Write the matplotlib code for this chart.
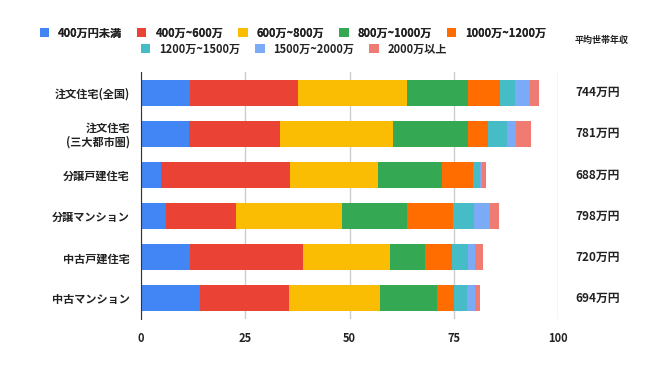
import matplotlib
matplotlib.use("Agg")
import matplotlib.pyplot as plt
import matplotlib.transforms as mtransforms
from matplotlib.patches import Patch
import numpy as np

plt.rcParams['font.family'] = ['Noto Sans CJK JP', 'DejaVu Sans']

categories = ["注文住宅(全国)", "注文住宅\n(三大都市圏)", "分譲戸建住宅", "分譲マンション", "中古戸建住宅", "中古マンション"]
series_names = ["400万円未満", "400万~600万", "600万~800万", "800万~1000万", "1000万~1200万",
                "1200万~1500万", "1500万~2000万", "2000万以上"]
colors = ["#4285F4", "#EA4335", "#FBBC04", "#34A853", "#FF6D01", "#46BDC6", "#7BAAF7", "#F07B72"]

s_under400 = [11.8, 11.5, 4.8, 6.1, 11.8, 14.1]
s_400_600 = [25.9, 21.9, 30.9, 16.7, 27.0, 21.3]
s_600_800 = [26.0, 27.1, 21.2, 25.4, 20.8, 21.9]
s_800_1000 = [14.7, 17.9, 15.3, 15.7, 8.6, 13.7]
s_1000_1200 = [7.8, 4.8, 7.5, 10.9, 6.3, 4.0]
s_1200_1500 = [3.5, 4.6, 1.5, 5.0, 3.9, 3.1]
s_1500_2000 = [3.5, 2.1, 0.5, 4.0, 1.8, 1.9]
s_over2000 = [2.2, 3.7, 1.0, 2.1, 1.8, 1.2]
avg_income = ["744万円", "781万円", "688万円", "798万円", "720万円", "694万円"]
xticks = [0, 25, 50, 75, 100]

series = [s_under400, s_400_600, s_600_800, s_800_1000, s_1000_1200,
          s_1200_1500, s_1500_2000, s_over2000]

W, H = 660, 371
fig = plt.figure(figsize=(W / 100, H / 100), dpi=100)
ax = fig.add_axes([141 / W, 1 - 319 / H, (558 - 141) / W, (319 - 72) / H])

y = np.arange(len(categories))
left = np.zeros(len(categories))
for vals, c, name in zip(series, colors, series_names):
    ax.barh(y, vals, left=left, height=0.63, color=c, label=name, zorder=3)
    left += np.array(vals)

ax.set_ylim(len(categories) - 0.5, -0.5)
ax.set_xlim(0, 100)
ax.set_xticks(xticks)
ax.set_xticklabels([str(t) for t in xticks], fontsize=8, fontweight='bold', color='#222222')
ax.set_yticks(y)
ax.set_yticklabels(categories, fontsize=8, fontweight='bold', color='#222222', linespacing=1.0)
ax.tick_params(axis='y', length=0, pad=8)
ax.tick_params(axis='x', length=0, pad=9)
ax.grid(axis='x', color='#cccccc', linewidth=1, zorder=0)
for s in ['top', 'right', 'bottom']:
    ax.spines[s].set_visible(False)
ax.spines['left'].set_color('#333333')
ax.spines['left'].set_zorder(4)

trans = mtransforms.blended_transform_factory(fig.transFigure, ax.transData)
for yi, lab in zip(y, avg_income):
    ax.text(575 / W, yi, lab, transform=trans, fontsize=8.5, fontweight='bold',
            color='#222222', va='center', ha='left')
fig.text(575 / W, 1 - 40 / H, "平均世帯年収", fontsize=6.5, fontweight='bold',
         color='#222222', va='center', ha='left')

handles = [Patch(facecolor=c, edgecolor='none') for c in colors]
leg1 = fig.legend(handles[:5], series_names[:5], loc='center', ncol=5,
                  bbox_to_anchor=(293 / W, 1 - 33 / H), frameon=False,
                  prop={'size': 8, 'weight': 'bold'}, handlelength=0.85, handleheight=0.85,
                  handletextpad=0.8, columnspacing=1.35, borderpad=0, borderaxespad=0)
for t in leg1.get_texts():
    t.set_color('#222222')
leg2 = fig.legend(handles[5:], series_names[5:], loc='center', ncol=3,
                  bbox_to_anchor=(294 / W, 1 - 49 / H), frameon=False,
                  prop={'size': 8, 'weight': 'bold'}, handlelength=0.85, handleheight=0.85,
                  handletextpad=0.8, columnspacing=1.35, borderpad=0, borderaxespad=0)
for t in leg2.get_texts():
    t.set_color('#222222')
fig.add_artist(leg1)

fig.savefig("out.png", dpi=100, facecolor='white')
